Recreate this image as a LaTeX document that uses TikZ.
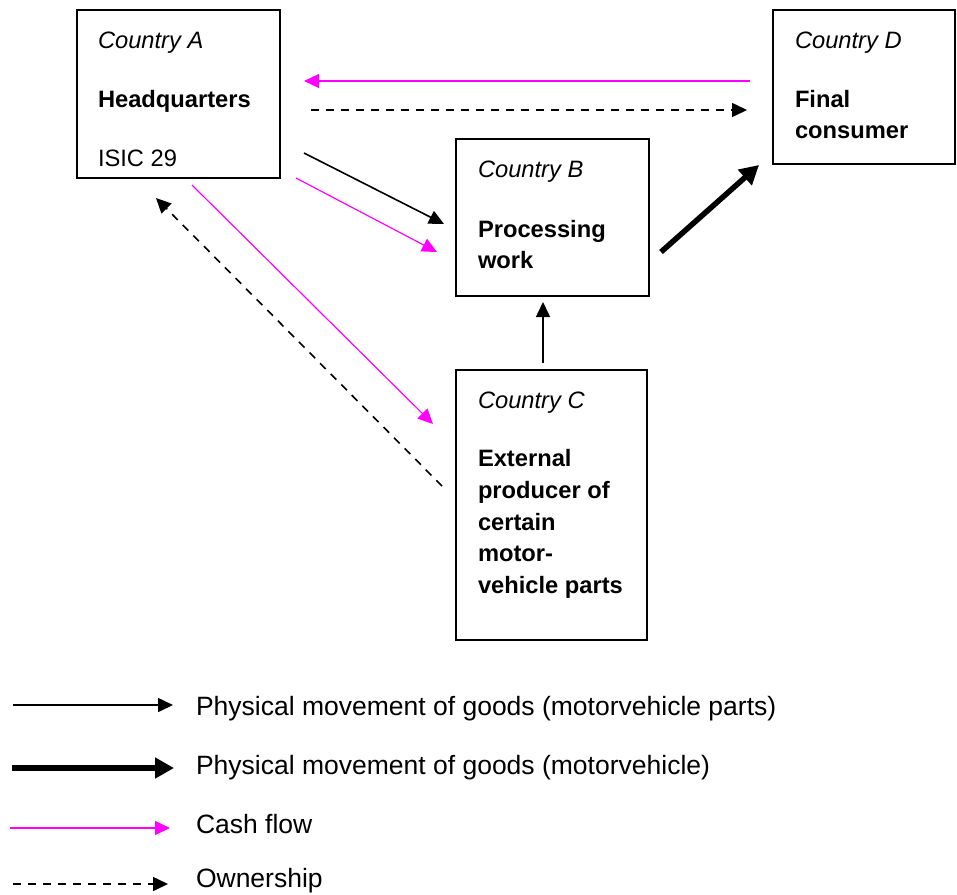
\documentclass[tikz,border=0pt]{standalone}
\usepackage{fontspec}
\setmainfont{Liberation Sans}
\usetikzlibrary{arrows.meta}
\definecolor{cash}{HTML}{FF00FF}

\begin{document}
\begin{tikzpicture}[x=1pt,y=-1pt,
  box/.style={draw, line width=2pt, inner sep=0pt, outer sep=0pt, anchor=north west},
  txt/.style={anchor=base west, inner sep=0pt, outer sep=0pt, font=\fontsize{23.7}{32}\selectfont},
  ctry/.style={txt, font=\fontsize{23.7}{32}\selectfont\itshape},
  head/.style={txt, font=\fontsize{23.7}{32}\selectfont\bfseries},
  legtxt/.style={txt, font=\fontsize{26.5}{32}\selectfont},
  goods/.style={line width=1.6pt, -{Triangle[length=15pt,width=14pt]}},
  vehicle/.style={line width=5.5pt, -{Triangle[length=19pt,width=20pt]}},
  cashflow/.style={cash, line width=1.2pt, -{Triangle[length=15pt,width=14pt]}},
  owner/.style={line width=1.6pt, dash pattern=on 8pt off 7pt, -{Triangle[length=15pt,width=14pt]}}
]
\useasboundingbox (0,0) rectangle (957,894);

% boxes
\node[box, minimum width=203, minimum height=168] (A) at (77,10) {};
\node[box, minimum width=182, minimum height=154] (D) at (773,10) {};
\node[box, minimum width=193, minimum height=157] (B) at (456,139) {};
\node[box, minimum width=191, minimum height=270] (C) at (456,370) {};

% Country A
\node[ctry] (a1) at (98,48) {Country A};
\node[head] (a2) at (98,107) {Headquarters};
\node[txt]  (a3) at (98,166) {ISIC 29};

% Country D
\node[ctry] (d1) at (795,48) {Country D};
\node[head] (d2) at (795,107) {Final};
\node[head] (d3) at (795,138) {consumer};

% Country B
\node[ctry] (b1) at (478,177) {Country B};
\node[head] (b2) at (478,237) {Processing};
\node[head] (b3) at (478,268) {work};

% Country C
\node[ctry] (c1) at (478,408) {Country C};
\node[head] (c2) at (478,466) {External};
\node[head] (c3) at (478,498) {producer of};
\node[head] (c4) at (478,530) {certain};
\node[head] (c5) at (478,561) {motor-};
\node[head] (c6) at (478,593) {vehicle parts};

% arrow end points
\coordinate (da0) at (750,81);  \coordinate (da1) at (304,81);
\coordinate (ad0) at (311,110); \coordinate (ad1) at (747,110);
\coordinate (ab0) at (304,153); \coordinate (ab1) at (444,224);
\coordinate (ab2) at (296,178); \coordinate (ab3) at (437,252);
\coordinate (ac0) at (192,185); \coordinate (ac1) at (433,424);
\coordinate (ca0) at (442,486); \coordinate (ca1) at (156,198);
\coordinate (cb0) at (543,363); \coordinate (cb1) at (543,302);
\coordinate (bd0) at (661,252); \coordinate (bd1) at (759,165);

% flows between countries
\draw[cashflow] (da0) -- (da1);
\draw[owner]    (ad0) -- (ad1);
\draw[goods]    (ab0) -- (ab1);
\draw[cashflow] (ab2) -- (ab3);
\draw[cashflow] (ac0) -- (ac1);
\draw[owner]    (ca0) -- (ca1);
\draw[goods]    (cb0) -- (cb1);
\draw[vehicle]  (bd0) -- (bd1);

% legend
\coordinate (l1a) at (13,705); \coordinate (l1b) at (173,705);
\coordinate (l2a) at (12,768); \coordinate (l2b) at (174,768);
\coordinate (l3a) at (10,828); \coordinate (l3b) at (170,828);
\coordinate (l4a) at (13,884); \coordinate (l4b) at (168,884);
\draw[goods]    (l1a) -- (l1b);
\draw[vehicle]  (l2a) -- (l2b);
\draw[cashflow] (l3a) -- (l3b);
\draw[owner]    (l4a) -- (l4b);
\node[legtxt] (t1) at (196,715) {Physical movement of goods (motorvehicle parts)};
\node[legtxt] (t2) at (196,774) {Physical movement of goods (motorvehicle)};
\node[legtxt] (t3) at (196,833) {Cash flow};
\node[legtxt] (t4) at (196,887) {Ownership};
\end{tikzpicture}
\end{document}
